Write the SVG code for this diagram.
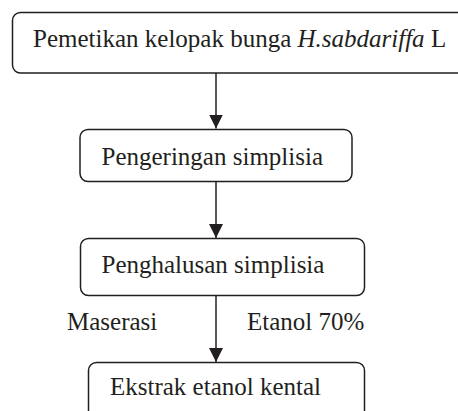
<svg xmlns="http://www.w3.org/2000/svg" width="458" height="411" viewBox="0 0 458 411">
  <defs>
    <marker id="arrow" viewBox="0 0 14 14" refX="14" refY="7" markerWidth="14" markerHeight="14" markerUnits="userSpaceOnUse" orient="auto">
      <path d="M0,0 L14,7 L0,14 Z" fill="#231f20"/>
    </marker>
  </defs>
  <style>
    .box { fill: #ffffff; stroke: #231f20; stroke-width: 1.5; }
    .label { font-family: "Liberation Serif", "Times New Roman", serif; font-size: 25px; fill: #231f20; }
    .edge { stroke: #231f20; stroke-width: 1.5; fill: none; marker-end: url(#arrow); }
  </style>
  <rect width="458" height="411" fill="#ffffff"/>

  <g id="connectors">
    <line class="edge" x1="216" y1="73" x2="216" y2="128.5"/>
    <line class="edge" x1="216" y1="182" x2="216" y2="238"/>
    <line class="edge" x1="216" y1="296" x2="216" y2="362"/>
  </g>

  <g id="node-pemetikan">
    <rect class="box" x="12.5" y="12.5" width="460" height="60.5" rx="8"/>
    <text class="label" x="33" y="47">Pemetikan kelopak bunga <tspan font-style="italic">H.sabdariffa</tspan> L</text>
  </g>

  <g id="node-pengeringan">
    <rect class="box" x="80" y="129.5" width="272" height="52" rx="8"/>
    <text class="label" x="101.5" y="165">Pengeringan simplisia</text>
  </g>

  <g id="node-penghalusan">
    <rect class="box" x="80.5" y="238.5" width="284" height="57" rx="8"/>
    <text class="label" x="101.5" y="273">Penghalusan simplisia</text>
  </g>

  <g id="edge-labels">
    <text class="label" x="67" y="330">Maserasi</text>
    <text class="label" x="247" y="330">Etanol 70%</text>
  </g>

  <g id="node-ekstrak">
    <rect class="box" x="88.5" y="362.5" width="276" height="70" rx="8"/>
    <text class="label" x="110" y="395">Ekstrak etanol kental</text>
  </g>
</svg>
